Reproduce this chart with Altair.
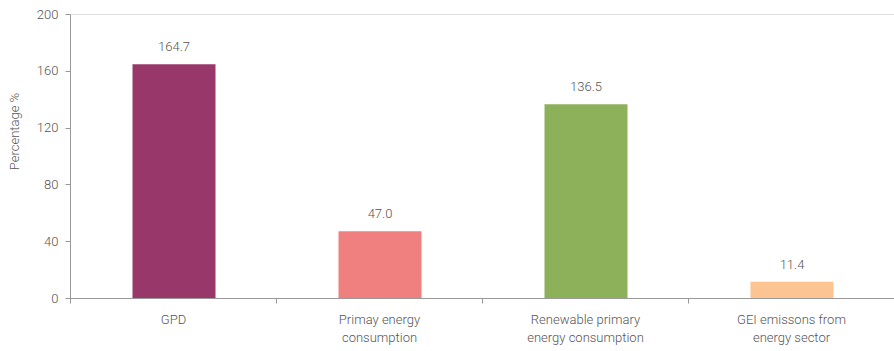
import altair as alt
import pandas as pd

categories = ["GPD", "Primay energy consumption", "Renewable primary energy consumption", "GEI emissons from energy sector"]
label_lines = [["GPD"], ["Primay energy", "consumption"], ["Renewable primary", "energy consumption"], ["GEI emissons from", "energy sector"]]
values = [164.7, 47.0, 136.5, 11.4]
colors = ["#98386A", "#F07F80", "#8DB05A", "#FCC490"]

df = pd.DataFrame({"category": categories, "value": values})

label_map = "{" + ", ".join(
    "'" + c + "': [" + ", ".join("'" + l + "'" for l in ls) + "]" for c, ls in zip(categories, label_lines)
) + "}"

FONT = "Roboto"
WEIGHT = 300
GREY = "#999999"
TXT = "#555555"

x = alt.X(
    "category:N",
    sort=categories,
    scale=alt.Scale(paddingInner=0, paddingOuter=0),
    axis=alt.Axis(
        title=None,
        labelAngle=0,
        labelExpr=label_map + "[datum.label]",
        labelFont=FONT,
        labelFontWeight=WEIGHT,
        labelFontSize=13,
        labelColor=TXT,
        labelLineHeight=18,
        labelPadding=10,
        tickBand="extent",
        tickSize=5,
        tickColor=GREY,
        domainColor=GREY,
        labelBaseline="top",
    ),
)

bars = alt.Chart(df).mark_bar(width=83, xOffset=1).encode(
    x=x,
    y=alt.Y(
        "value:Q",
        scale=alt.Scale(domain=[0, 200]),
        axis=alt.Axis(
            title="Percentage %",
            values=[0, 40, 80, 120, 160, 200],
            grid=False,
            labelFont=FONT,
            labelFontWeight=WEIGHT,
            labelFontSize=13,
            labelColor=TXT,
            labelPadding=7,
            tickSize=5,
            tickColor=GREY,
            domainColor=GREY,
            titleFont=FONT,
            titleFontSize=13,
            titleFontWeight=WEIGHT,
            titleColor=TXT,
            titleX=-49,
            titleY=117,
        ),
    ),
    color=alt.Color("category:N", scale=alt.Scale(domain=categories, range=colors), legend=None),
)

text = alt.Chart(df).mark_text(
    dy=-10, dx=1, baseline="bottom", font=FONT, fontWeight=WEIGHT, fontSize=13, color=TXT
).encode(
    x=alt.X("category:N", sort=categories),
    y="value:Q",
    text=alt.Text("value:Q", format=".1f"),
)

chart = (
    alt.layer(bars, text)
    .properties(
        width=824,
        height=284,
        autosize=alt.AutoSizeParams(type="none"),
        padding={"left": 70, "top": 14, "right": 0, "bottom": 53},
    )
    .configure_view(stroke=None)
    .configure(background="white")
)

chart.save("out.html", embed_options={"renderer": "svg", "actions": False})
